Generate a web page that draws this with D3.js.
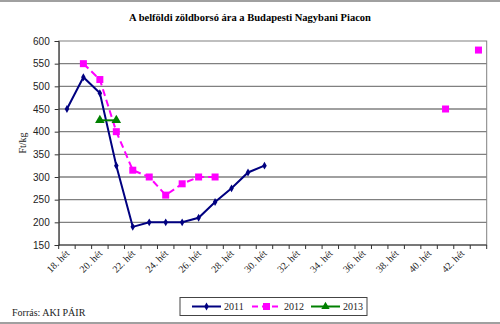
<!DOCTYPE html>
<html><head><meta charset="utf-8">
<script src="https://cdn.jsdelivr.net/npm/d3@7"></script>
<style>body{margin:0;background:#fff}svg{display:block}</style>
</head><body>
<svg id="c" width="500" height="324"></svg>
<script>
const weeks = d3.range(18, 44).map(w => w + ". hét");
const labeledWeeks = ["18. hét","20. hét","22. hét","24. hét","26. hét","28. hét","30. hét","32. hét","34. hét","36. hét","38. hét","40. hét","42. hét"];
const yTicks = [150,200,250,300,350,400,450,500,550,600];
const s2011 = [["18. hét",450],["19. hét",520],["20. hét",485],["21. hét",325],["22. hét",190],["23. hét",200],["24. hét",200],["25. hét",200],["26. hét",210],["27. hét",245],["28. hét",275],["29. hét",310],["30. hét",325]];
const s2012 = [["19. hét",550],["20. hét",515],["21. hét",400],["22. hét",315],["23. hét",300],["24. hét",260],["25. hét",285],["26. hét",300],["27. hét",300],["28. hét",null],["41. hét",450],["42. hét",null],["43. hét",580]];
const s2013 = [["20. hét",425],["21. hét",425]];
const seriesNames = ["2011","2012","2013"];

const svg = d3.select("#c");
svg.append("rect").attr("x",0).attr("y",0).attr("width",500).attr("height",2).attr("fill","#a0a0a0");
svg.append("rect").attr("x",0).attr("y",322).attr("width",500).attr("height",2).attr("fill","#a0a0a0");

const L=58.7, R=486.7, T=41, B=245;
const x = d3.scaleBand().domain(weeks).range([L,R]);
const y = d3.scaleLinear().domain([150,600]).range([B,T]);

svg.append("text").attr("x",250).attr("y",21).attr("text-anchor","middle")
  .attr("font-family","Liberation Serif").attr("font-weight","bold").attr("font-size",10.5)
  .text("A belföldi zöldborsó ára a Budapesti Nagybani Piacon");

// gridlines
svg.append("g").selectAll("line").data(yTicks.filter(v=>v>150 && v<600)).join("line")
  .attr("x1",L).attr("x2",R).attr("y1",d=>y(d)).attr("y2",d=>y(d))
  .attr("stroke","#808080").attr("stroke-width",1.3);
svg.append("rect").attr("x",L).attr("y",T).attr("width",R-L).attr("height",B-T)
  .attr("fill","none").attr("stroke","#808080").attr("stroke-width",1);

// y axis
const ya = svg.append("g").attr("transform",`translate(${L},0)`)
  .call(d3.axisLeft(y).tickValues(yTicks).tickSize(4).tickPadding(5));
ya.select(".domain").attr("stroke","#333");
ya.selectAll("line").attr("stroke","#333");
ya.selectAll("text").attr("font-family","Liberation Sans").attr("font-size",10).attr("fill","#222");

// x axis
const xa = svg.append("g").attr("transform",`translate(0,${B})`);
xa.append("line").attr("x1",L).attr("x2",R).attr("stroke","#333");
const edges = weeks.map(w=>x(w)).concat([R]);
xa.selectAll("line.t").data(edges).join("line").attr("class","t")
  .attr("x1",d=>d).attr("x2",d=>d).attr("y1",0).attr("y2",4).attr("stroke","#333");
xa.selectAll("text").data(labeledWeeks).join("text")
  .attr("transform",d=>`translate(${x(d)+x.bandwidth()/2+3},${9}) rotate(-45)`)
  .attr("text-anchor","end").attr("font-family","Liberation Serif").attr("font-size",10).attr("fill","#222")
  .text(d=>d);

svg.append("text").attr("transform",`translate(26,143) rotate(-90)`).attr("text-anchor","middle")
  .attr("font-family","Liberation Serif").attr("font-size",10).attr("fill","#222").text("Ft/kg");

const cx = d => x(d[0]) + x.bandwidth()/2;
const line = d3.line().defined(d=>d[1]!==null).x(cx).y(d=>y(d[1]));

// 2012
svg.append("path").datum(s2012).attr("d",line).attr("fill","none").attr("stroke","#ff00ff")
  .attr("stroke-width",2).attr("stroke-dasharray","7,4");
svg.append("g").selectAll("rect").data(s2012.filter(d=>d[1]!==null)).join("rect")
  .attr("x",d=>cx(d)-3.5).attr("y",d=>y(d[1])-3.5).attr("width",7).attr("height",7).attr("fill","#ff00ff");
// 2011
svg.append("path").datum(s2011).attr("d",line).attr("fill","none").attr("stroke","#000080").attr("stroke-width",2);
svg.append("g").selectAll("path").data(s2011).join("path")
  .attr("d",d3.symbol(d3.symbolDiamond,18)).attr("transform",d=>`translate(${cx(d)},${y(d[1])})`).attr("fill","#000080");
// 2013
svg.append("path").datum(s2013).attr("d",line).attr("fill","none").attr("stroke","#008000").attr("stroke-width",2);
svg.append("g").selectAll("path").data(s2013).join("path")
  .attr("d",d3.symbol(d3.symbolTriangle,40)).attr("transform",d=>`translate(${cx(d)},${y(d[1])})`).attr("fill","#008000");

// legend
const lg = svg.append("g");
lg.append("rect").attr("x",180).attr("y",297.5).attr("width",187).attr("height",18).attr("fill","#fff").attr("stroke","#444");
const items = [{n:seriesNames[0],c:"#000080",x0:192,dash:null,m:"d"},{n:seriesNames[1],c:"#ff00ff",x0:252,dash:"6,4",m:"s"},{n:seriesNames[2],c:"#008000",x0:311,dash:null,m:"t"}];
items.forEach(it=>{
  const ly = 306.5;
  lg.append("line").attr("x1",it.x0).attr("x2",it.x0+29).attr("y1",ly).attr("y2",ly).attr("stroke",it.c).attr("stroke-width",2).attr("stroke-dasharray",it.dash);
  const mx = it.x0+14.5;
  if(it.m==="s") lg.append("rect").attr("x",mx-3.5).attr("y",ly-3.5).attr("width",7).attr("height",7).attr("fill",it.c);
  else lg.append("path").attr("d",d3.symbol(it.m==="d"?d3.symbolDiamond:d3.symbolTriangle,it.m==="d"?18:30)).attr("transform",`translate(${mx},${ly})`).attr("fill",it.c);
  lg.append("text").attr("x",it.x0+32).attr("y",ly+3.5).attr("font-family","Liberation Serif").attr("font-size",10).attr("fill","#222").text(it.n);
});

svg.append("text").attr("x",12).attr("y",316).attr("font-family","Liberation Serif").attr("font-size",10).attr("fill","#222").text("Forrás: AKI PÁIR");
</script>
</body></html>
